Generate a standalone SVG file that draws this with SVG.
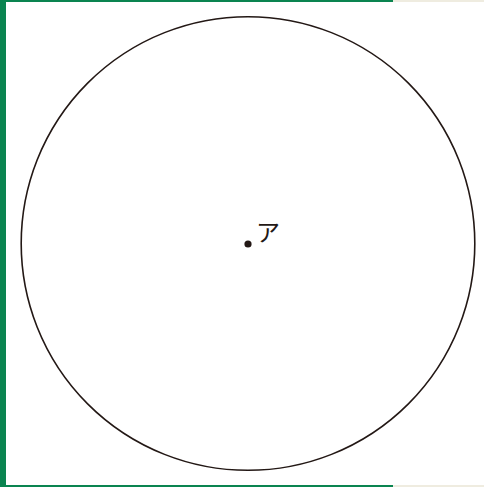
<svg xmlns="http://www.w3.org/2000/svg" width="484" height="487" viewBox="0 0 484 487">
<style>
.frame-g{fill:#0a8450}
.frame-b{fill:#efece0}
.ring{fill:none;stroke:#231815;stroke-width:1.6}
.lbl{font-family:"Noto Sans CJK JP","Noto Sans CJK SC",sans-serif;font-size:24px;fill:#231815}
</style>
<rect width="484" height="487" fill="#ffffff"/>
<rect class="frame-b" x="393" y="0" width="91" height="2"/>
<rect class="frame-b" x="393" y="485" width="91" height="2" fill="#c9c0b4"/>
<rect class="frame-g" x="0" y="0" width="393" height="2"/>
<rect class="frame-g" x="0" y="485" width="393" height="2"/>
<rect class="frame-g" x="0" y="0" width="6" height="487"/>
<g id="circle">
<circle class="ring" cx="248" cy="243.5" r="226.8"/>
</g>
<g id="center">
<circle cx="248" cy="244" r="3.6" fill="#231815"/>
<text class="lbl" x="256" y="241">ア</text>
</g>
</svg>
